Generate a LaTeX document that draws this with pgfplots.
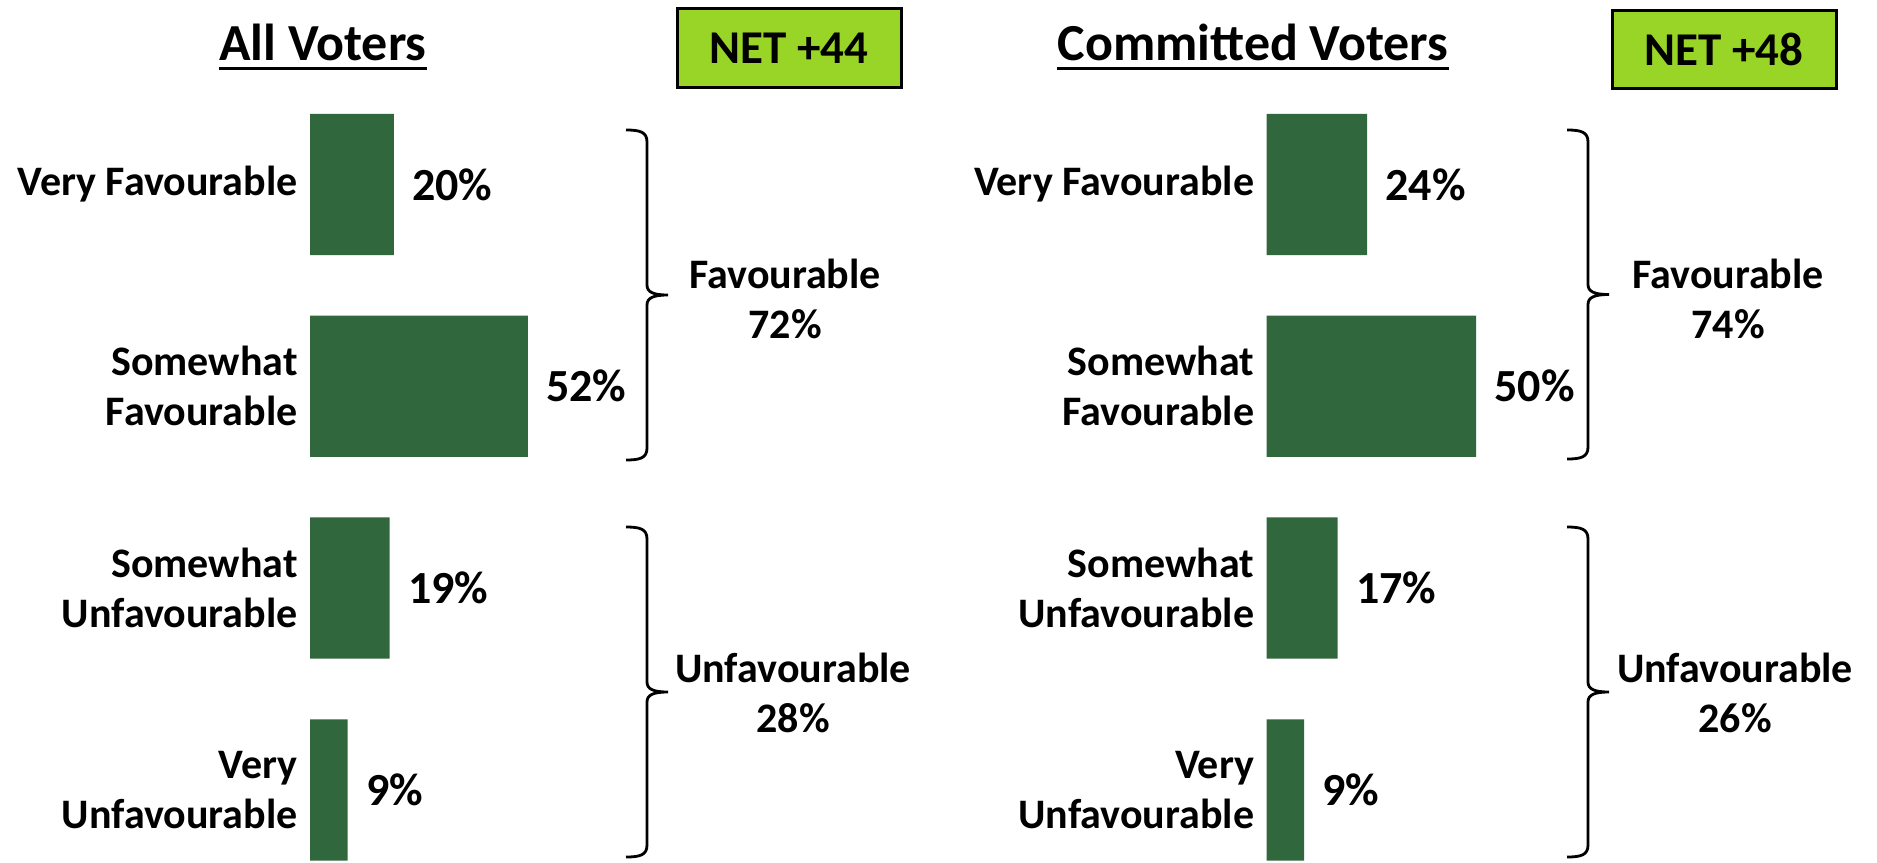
\documentclass[border=0pt]{standalone}
\usepackage{fontspec}
\setmainfont{Carlito}
\usepackage{pgfplots}
\pgfplotsset{compat=1.18}

\definecolor{bargreen}{RGB}{49,103,60}
\definecolor{netgreen}{RGB}{153,213,38}

% 1 px of the reference = 0.5pt
\pgfplotsset{
  favbars/.style={
    xbar, bar shift=0pt, bar width=0.7,
    scale only axis, width=209.5pt, height=403.6pt,
    xmin=0, xmax=100, ymin=-0.5, ymax=3.5, y dir=reverse,
    axis line style={draw=none}, tick style={draw=none},
    major tick length=0pt,
    xtick=\empty, ytick={0,1,2,3},
    yticklabels={Very Favourable,{Somewhat\\Favourable},{Somewhat\\Unfavourable},{Very\\Unfavourable}},
    yticklabel style={font=\fontsize{21pt}{25pt}\selectfont\bfseries, align=right, inner sep=0pt, xshift=-6pt},
    /pgf/number format/assume math mode=true,
    nodes near coords={\pgfmathprintnumber{\pgfplotspointmeta}\%},
    every node near coord/.append style={font=\fontsize{23pt}{27pt}\selectfont\bfseries, anchor=west, inner sep=0pt, xshift=9pt},
    clip=false,
  }
}

% square-ish curly bracket: x of the hook ends, top y, bottom y (px, y down)
\newcommand{\bracket}[3]{%
  \pgfmathsetmacro\xa{#1+21}\pgfmathsetmacro\xb{#1+42}%
  \pgfmathsetmacro\ym{(#2+#3)/2}%
  \draw[line width=1.4pt] (#1,#2) .. controls (\xa-7,#2) and (\xa,#2+2) .. (\xa,#2+12)
    -- (\xa,\ym-10) .. controls (\xa,\ym-3) and (\xa+6,\ym) .. (\xb,\ym)
    .. controls (\xa+6,\ym) and (\xa,\ym+3) .. (\xa,\ym+10)
    -- (\xa,#3-12) .. controls (\xa,#3-2) and (\xa-7,#3) .. (#1,#3);}

\begin{document}
\begin{tikzpicture}
\useasboundingbox (0,0) rectangle (938.5pt,-431pt);
\clip (0,0) rectangle (938.5pt,-431pt);

% All voters
\begin{axis}[favbars, at={(155pt,-41.8pt)}, anchor=north west]
\addplot[fill=bargreen, draw=none] coordinates {(20,0) (52,1) (19,2) (9,3)};
\end{axis}

% Committed voters
\begin{axis}[favbars, at={(633.25pt,-41.8pt)}, anchor=north west]
\addplot[fill=bargreen, draw=none] coordinates {(24,0) (50,1) (17,2) (9,3)};
\end{axis}

\begin{scope}[x=0.5pt, y=-0.5pt]
  % titles
  \node[font=\fontsize{26pt}{30pt}\selectfont\bfseries, anchor=base, inner sep=0pt] (t1) at (323,60) {All Voters};
  \draw[line width=1.5pt] ([yshift=-4pt]t1.base west) -- ([yshift=-4pt]t1.base east);
  \node[font=\fontsize{26pt}{30pt}\selectfont\bfseries, anchor=base, inner sep=0pt] (t2) at (1253,60) {Committed Voters};
  \draw[line width=1.5pt] ([yshift=-4pt]t2.base west) -- ([yshift=-4pt]t2.base east);

  % net boxes
  \draw[fill=netgreen, line width=1.5pt] (677,8) rectangle (901,87);
  \node[font=\fontsize{23.5pt}{28pt}\selectfont\bfseries] at (789,48) {NET +44};
  \draw[fill=netgreen, line width=1.5pt] (1612,10) rectangle (1836,88);
  \node[font=\fontsize{23.5pt}{28pt}\selectfont\bfseries] at (1724,49) {NET +48};

  % brackets
  \bracket{626}{130}{460}
  \bracket{626}{527}{857}
  \bracket{1567}{130}{459}
  \bracket{1567}{527}{857}

  % group totals
  \begin{scope}[every node/.style={font=\fontsize{21pt}{25pt}\selectfont\bfseries, align=center}]
    \node at (785,299) {Favourable\\72\%};
    \node at (793,693) {Unfavourable\\28\%};
    \node at (1728,299) {Favourable\\74\%};
    \node at (1735,693) {Unfavourable\\26\%};
  \end{scope}
\end{scope}
\end{tikzpicture}
\end{document}
